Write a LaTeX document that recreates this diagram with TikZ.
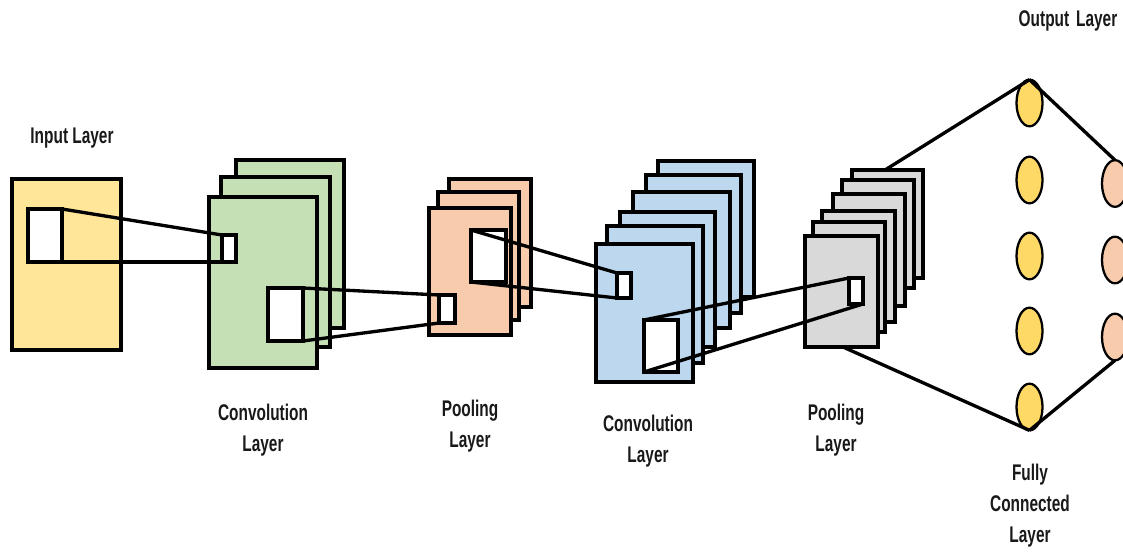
\documentclass[tikz,border=0pt]{standalone}
\usepackage{fontspec}
\newfontfamily\lab[FakeStretch=0.68]{Liberation Sans}
\usetikzlibrary{shapes.geometric}
\definecolor{inY}{HTML}{FFE699}
\definecolor{cG}{HTML}{C5E0B4}
\definecolor{pO}{HTML}{F8CBAD}
\definecolor{cB}{HTML}{BDD7EE}
\definecolor{pGr}{HTML}{D9D9D9}
\definecolor{fcY}{HTML}{FFD966}
\begin{document}
\begin{tikzpicture}[x=0.75pt,y=-0.75pt,
  sheet/.style={draw=black, line width=2.4pt},
  win/.style={draw=black, fill=white, line width=2.4pt, inner sep=0pt, outer sep=0pt, anchor=north west},
  wire/.style={draw=black, line width=2.5pt},
  neuron/.style={ellipse, draw=black, line width=1.7pt, inner sep=0pt, outer sep=0pt, minimum width=19.5pt, minimum height=35pt},
  lbl/.style={font=\lab\bfseries\fontsize{17pt}{23.25pt}\selectfont, align=center, text=black!90, inner sep=0pt}]
\useasboundingbox (0,0) rectangle (1123,553);
\clip (0,0) rectangle (1123,553);

% input layer
\filldraw[sheet, fill=inY] (12,179) rectangle (121,350);
\node[win, minimum width=25.5pt, minimum height=39.75pt] (insq) at (28,209) {};

% convolution layer 1
\filldraw[sheet, fill=cG] (236,160) rectangle (344,328);
\filldraw[sheet, fill=cG] (221,177) rectangle (330,347);
\filldraw[sheet, fill=cG] (209,197) rectangle (317,368);
\node[win, minimum width=10.5pt, minimum height=20.25pt] (c1s) at (222,235) {};
\node[win, minimum width=26.25pt, minimum height=39.75pt] (c1b) at (268,288) {};

% pooling layer 1
\filldraw[sheet, fill=pO] (449,179) rectangle (531,307);
\filldraw[sheet, fill=pO] (438,192) rectangle (519,320);
\filldraw[sheet, fill=pO] (429,208) rectangle (511,335);
\node[win, minimum width=12pt, minimum height=21pt] (p1s) at (439,295) {};
\node[win, minimum width=26.25pt, minimum height=39pt] (p1b) at (471,230) {};

% convolution layer 2
\filldraw[sheet, fill=cB] (658,161) rectangle (754,297);
\filldraw[sheet, fill=cB] (646,175) rectangle (741,313);
\filldraw[sheet, fill=cB] (633,192) rectangle (730,328);
\filldraw[sheet, fill=cB] (620,212) rectangle (715,347);
\filldraw[sheet, fill=cB] (607,226) rectangle (703,363);
\filldraw[sheet, fill=cB] (596,244) rectangle (693,382);
\node[win, minimum width=10.5pt, minimum height=18.75pt] (c2s) at (617,273) {};
\node[win, minimum width=25.5pt, minimum height=39pt] (c2b) at (644,320) {};

% pooling layer 2
\filldraw[sheet, fill=pGr] (852,170) rectangle (923,278);
\filldraw[sheet, fill=pGr] (842,180) rectangle (914,288);
\filldraw[sheet, fill=pGr] (833,194) rectangle (905,306);
\filldraw[sheet, fill=pGr] (822,211) rectangle (895,322);
\filldraw[sheet, fill=pGr] (813,222) rectangle (885,332);
\filldraw[sheet, fill=pGr] (805,236) rectangle (878,347);
\node[win, minimum width=10.5pt, minimum height=19.5pt] (p2s) at (849,278) {};
\coordinate (gtop) at (885,170);
\coordinate (gbot) at (843,347);

% fully connected and output neurons
\node[neuron, fill=fcY] (f1) at (1029.5,103) {};
\node[neuron, fill=fcY] (f2) at (1029.5,180) {};
\node[neuron, fill=fcY] (f3) at (1029.5,256) {};
\node[neuron, fill=fcY] (f4) at (1029.5,331) {};
\node[neuron, fill=fcY] (f5) at (1029.5,407) {};
\node[neuron, fill=pO] (o1) at (1115,183.5) {};
\node[neuron, fill=pO] (o2) at (1115,260) {};
\node[neuron, fill=pO] (o3) at (1115,337) {};

% connectors
\draw[wire] (insq.north east) -- (c1s.north west);
\draw[wire] (insq.south east) -- (c1s.south west);
\draw[wire] (c1b.north east) -- (p1s.north west);
\draw[wire] (c1b.south east) -- (p1s.south west);
\draw[wire] (p1b.north west) -- (c2s.north west);
\draw[wire] (p1b.south west) -- (c2s.south west);
\draw[wire] (c2b.north west) -- (p2s.north west);
\draw[wire] (c2b.south west) -- (p2s.south east);
\draw[wire] (gtop) -- (f1.north);
\draw[wire] (f1.north) -- (o1.north);
\draw[wire] (gbot) -- (f5.south);
\draw[wire] (f5.south) -- (o3.south);

% labels
\node[lbl] (tIn) at (72,138) {Input Layer};
\node[lbl] (tOut) at (1068,21) {Output\hspace{2pt} Layer};
\node[lbl] (tC1) at (263,430) {Convolution\\Layer};
\node[lbl] (tP1) at (470,426) {Pooling\\Layer};
\node[lbl] (tC2) at (648,441) {Convolution\\Layer};
\node[lbl] (tP2) at (836,430) {Pooling\\Layer};
\node[lbl] (tFC) at (1030,506) {Fully\\Connected\\Layer};
\end{tikzpicture}
\end{document}
